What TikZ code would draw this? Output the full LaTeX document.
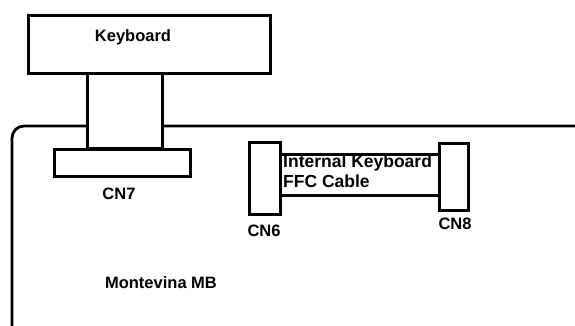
\documentclass[tikz,border=0pt]{standalone}
\usepackage{fontspec}
\setmainfont{Liberation Sans}
\begin{document}
\begin{tikzpicture}[x=1pt,y=-1pt,
  part/.style={draw=black,line width=2.8pt,fill=white,inner sep=0pt,anchor=north west},
  lbl/.style={font=\bfseries\fontsize{16.5}{19}\selectfont,inner sep=0pt}]
\useasboundingbox (0,0) rectangle (575,326);
% motherboard outline
\coordinate (mbbl) at (12,330);
\coordinate (mbtr) at (580,126);
\draw[line width=2.8pt,rounded corners=12pt] (mbbl) -- (12,126) -- (mbtr);
% keyboard
\node[part,minimum width=242pt,minimum height=58pt] (kb) at (27,14) {};
\node[lbl] (kbt) at (133,37) {Keyboard};
% stem / cable to CN7
\node[part,minimum width=75pt,minimum height=75pt] (stem) at (86,72) {};
% CN7
\node[part,minimum width=136pt,minimum height=27pt] (cn7) at (53,148) {};
\node[lbl] (cn7t) at (119,194) {CN7};
% internal cable
\node[part,minimum width=160pt,minimum height=41pt] (ffc) at (278,153) {};
\node[lbl,anchor=north west,align=left,font=\bfseries\fontsize{17.5}{20}\selectfont] (ffct) at (283,155) {Internal Keyboard\\FFC Cable};
% CN6, CN8
\node[part,minimum width=31pt,minimum height=72pt] (cn6) at (248,141) {};
\node[lbl] (cn6t) at (264,231) {CN6};
\node[part,minimum width=29pt,minimum height=67pt] (cn8) at (438,142) {};
\node[lbl] (cn8t) at (455,224) {CN8};
% label
\node[lbl] (mbt) at (161,283) {Montevina MB};
\end{tikzpicture}
\end{document}
